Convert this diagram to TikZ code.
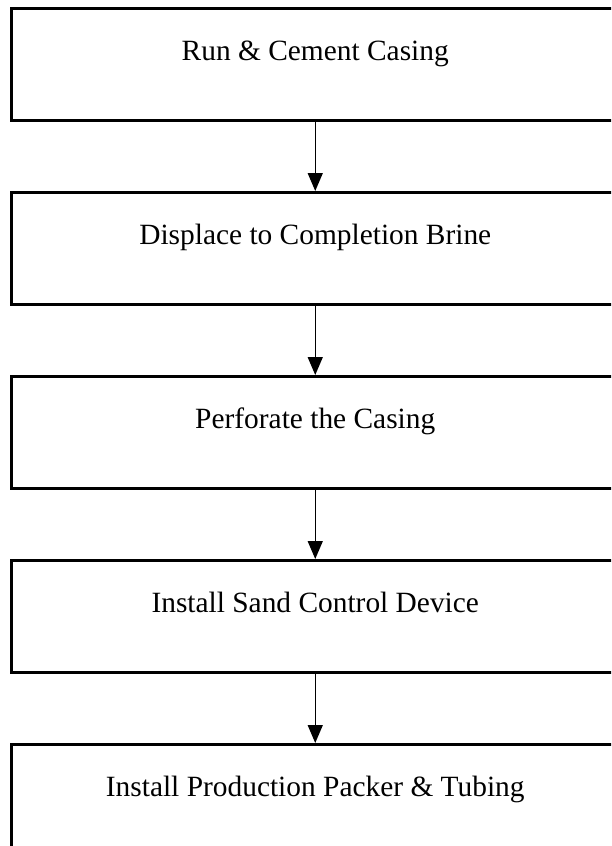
\documentclass[tikz,border=0pt]{standalone}
\usepackage{fontspec}
\setmainfont{Liberation Serif}
\usetikzlibrary{positioning}
\usetikzlibrary{arrows.meta}

\begin{document}
\begin{tikzpicture}[x=0.5pt, y=-0.5pt,
    every node/.style={draw, rectangle, line width=1.25pt, minimum width=304pt,
      inner xsep=0pt, inner ysep=0pt, text height=26pt, text depth=30pt,
      font=\fontsize{14.7}{17}\selectfont},
    flecha/.style={-{Triangle[width=7.5pt, length=9pt]}, line width=0.75pt}]
            \clip (0,0) rectangle (611,846);
            % Cajas
            \node[anchor=north west] (casing) at (10,7) {Run \& Cement Casing};
            \node[below=34.75pt of casing] (brine) {Displace to Completion Brine};
            \node[below=34.75pt of brine] (perf) {Perforate the Casing};
            \node[below=34.75pt of perf] (sand) {Install Sand Control Device};
            \node[below=34.75pt of sand] (packer) {Install Production Packer \& Tubing};

            % Flechas
            \draw[flecha] (casing) -- (brine);
            \draw[flecha] (brine) -- (perf);
            \draw[flecha] (perf) -- (sand);
            \draw[flecha] (sand) -- (packer);
          \end{tikzpicture}
\end{document}
